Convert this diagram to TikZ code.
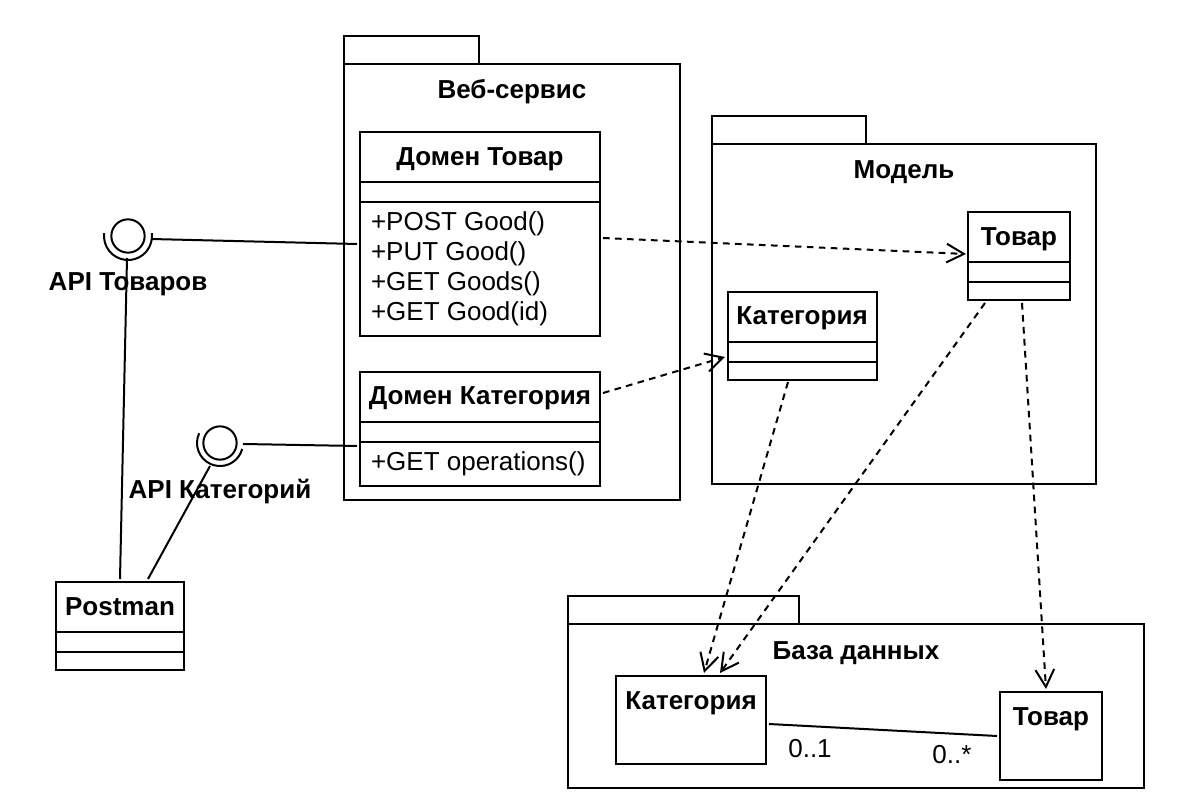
\documentclass[tikz,border=0pt]{standalone}
\usepackage{fontspec}
\setmainfont{Liberation Sans}
\usetikzlibrary{arrows.meta,fit,calc}
\begin{document}
\begin{tikzpicture}[x=0.75pt,y=0.75pt,line width=1.5pt,
  box/.style={draw,inner sep=0pt,fit={#1}},
  ttl/.style={font=\fontsize{19.5}{23}\selectfont\bfseries,anchor=base,inner sep=0pt},
  attr/.style={font=\fontsize{19.5}{23}\selectfont,anchor=base west,inner sep=0pt},
  mult/.style={font=\fontsize{19.5}{23}\selectfont,anchor=base,inner sep=0pt},
  dep/.style={dash pattern=on 5pt off 4pt,-{Straight Barb[length=13pt,width=14pt]}},
  iface/.style={circle,draw,minimum size=25pt,inner sep=0pt}]
\useasboundingbox[fill=white] (0,0) rectangle (1178,-812);

% Package: Веб-сервис
\node[box={(344,-36) (479,-64)}] (wtab) {};
\node[box={(344,-64) (680,-500)}] (web) {};
\node[ttl] (webt) at (512,-99) {Веб-сервис};

\node[box={(360,-132) (600,-336)}] (dt) {};
\draw (360,-182) -- (600,-182) (360,-202) -- (600,-202);
\node[ttl] (dtt) at (480,-166) {Домен Товар};
\node[attr] (a1) at (370,-231) {+POST Good()};
\node[attr] (a2) at (370,-261) {+PUT Good()};
\node[attr] (a3) at (370,-291) {+GET Goods()};
\node[attr] (a4) at (370,-321) {+GET Good(id)};

\node[box={(360,-372) (600,-486)}] (dk) {};
\draw (360,-422) -- (600,-422) (360,-442) -- (600,-442);
\node[ttl] (dkt) at (480,-405) {Домен Категория};
\node[attr] (a5) at (370,-471) {+GET operations()};

% Package: Модель
\node[box={(712,-116) (866,-144)}] (mtab) {};
\node[box={(712,-144) (1096,-484)}] (mod) {};
\node[ttl] (modt) at (904,-179) {Модель};

\node[box={(968,-212) (1070,-300)}] (mt) {};
\draw (968,-262) -- (1070,-262) (968,-282) -- (1070,-282);
\node[ttl] (mtt) at (1019,-246) {Товар};

\node[box={(728,-292) (877,-380)}] (mc) {};
\draw (728,-342) -- (877,-342) (728,-362) -- (877,-362);
\node[ttl] (mct) at (802,-325) {Категория};

% Package: База данных
\node[box={(568,-596) (799,-624)}] (btab) {};
\node[box={(568,-624) (1144,-788)}] (db) {};
\node[ttl] (dbt) at (856,-659) {База данных};

\node[box={(616,-676) (766,-764)}] (dc) {};
\node[ttl] (dct) at (691,-709) {Категория};
\node[box={(1000,-692) (1102,-780)}] (dtv) {};
\node[ttl] (dtvt) at (1051,-725) {Товар};

% Postman
\node[box={(56,-582) (184,-670)}] (pm) {};
\draw (56,-632) -- (184,-632) (56,-652) -- (184,-652);
\node[ttl] (pmt) at (120,-615) {Postman};

% Interfaces
\node[iface] (ia) at (128,-236) {};
\draw ($(ia)+(-187:24)$) arc[start angle=-187,end angle=7,radius=24];
\node[ttl] (iat) at (128,-291) {API Товаров};

\node[iface] (ik) at (220,-443) {};
\draw ($(ik)+(-205:23)$) arc[start angle=-205,end angle=-15,radius=23];
\node[ttl] (ikt) at (220,-499) {API Категорий};

% Connectors
\draw ($(ia)+(23,-3)$) -- ($(dt.west)+(-2,-10)$);
\draw ($(ia)+(-1,-22)$) -- ($(pm.north)+(0,2)$);
\draw ($(ik)+(23,-1)$) -- ($(dk.west)+(-2,-17)$);
\draw ($(ik)+(-10,-23)$) -- ($(pm.north)+(28,2)$);

\draw[dep] ($(dt.east)+(2,-4)$) -- ($(mt.west)+(-1,2)$);
\draw[dep] ($(dk.east)+(2,36)$) -- ($(mc.west)+(-2,-21)$);
\draw[dep] ($(mc.south)+(-14.5,-1)$) -- ($(dc.north)+(13,2)$);
\draw[dep] ($(mt.south)+(-34,-2)$) -- ($(dc.north)+(29,2)$);
\draw[dep] ($(mt.south)+(3,-2)$) -- ($(dtv.north)+(-5,2)$);

\draw ($(dc.east)+(2,-4)$) -- ($(dtv.west)+(-2,0)$);
\node[mult] (m1) at (810,-757) {0..1};
\node[mult] (m2) at (952,-763) {0..*};
\end{tikzpicture}
\end{document}
